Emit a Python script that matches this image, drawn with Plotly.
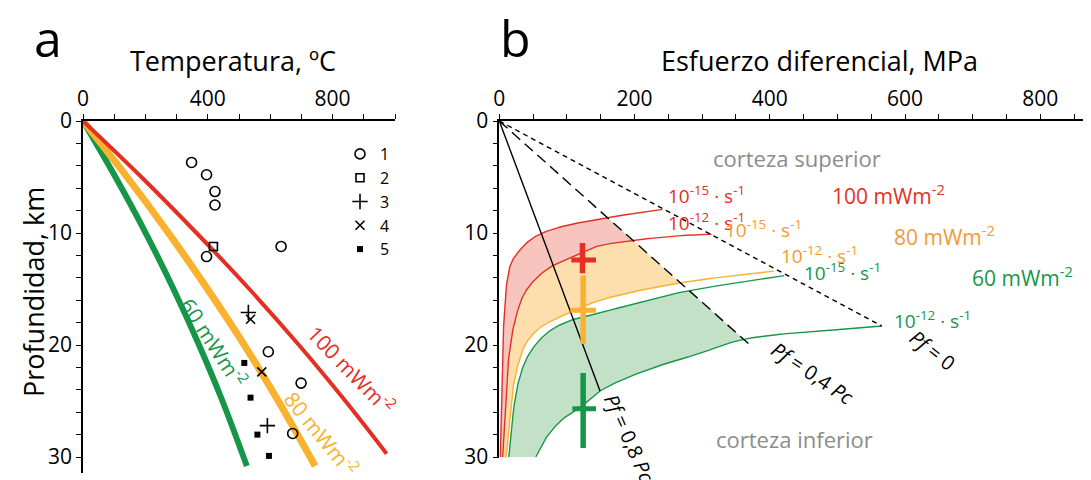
import numpy as np
import plotly.graph_objects as go

W, H = 1091, 480
OX, OY = 8, 8          # page body margin of the browser
FW, FH = W - OX, H - OY

# ---------------- Panel a data ----------------
geo_depth_100 = [0, 5, 10, 15, 20, 25, 29.7]
geo_T_100 = [0, 187, 364, 533, 692, 841, 973]
geo_depth = [0, 5, 10, 15, 20, 25, 30.8]
geo_T_80 = [0, 141, 274, 399, 517, 626, 744]
geo_T_60 = [0, 104, 201, 290, 372, 447, 525]

obs1_T = [348, 396, 423, 423, 396, 635, 594, 699, 672]
obs1_z = [3.7, 4.8, 6.3, 7.5, 12.1, 11.2, 20.6, 23.4, 27.9]
obs2_T = [418]
obs2_z = [11.2]
obs3_T = [530, 591]
obs3_z = [17.1, 27.2]
obs4_T = [537, 573]
obs4_z = [17.7, 22.4]
obs5_T = [517, 537, 559, 596, 623]
obs5_z = [21.6, 24.7, 28.0, 29.9, 31.8]

# ---------------- Panel b data ----------------
# ductile flow-law curves (sigma MPa, depth km)
redA_s = [1.5, 4, 6.5, 11.5, 19, 44, 64, 94, 144, 194, 241]
redA_z = [30, 22.6, 18.2, 14.3, 12.5, 10.7, 10.0, 9.4, 8.8, 8.3, 7.9]
redB_s = [5, 9, 14, 24, 39, 69, 109, 144, 194, 254, 314]
redB_z = [30, 25.6, 21.1, 17.6, 15.2, 13.3, 12.1, 11.2, 10.7, 10.3, 10.1]
orgC_s = [8, 14, 19, 26.5, 39, 59, 104, 144, 194, 244, 294, 406]
orgC_z = [31.2, 27.4, 24.4, 22.0, 19.9, 18.5, 17.1, 16.1, 15.3, 14.7, 14.2, 13.4]
grnD_s = [14, 20, 30, 44, 69, 101, 144, 194, 244, 294, 421]
grnD_z = [30, 26.2, 22.9, 20.8, 19.0, 17.9, 17.2, 16.4, 15.6, 15.0, 13.8]
grnE_s = [54, 69, 94, 119, 149, 194, 244, 294, 361, 566]
grnE_z = [30, 28.3, 26.6, 25.6, 24.1, 22.8, 21.7, 20.8, 19.5, 18.3]

# frictional (Byerlee) lines: sigma = k0*(1-lambda)*z
k0 = 30.9
pf_lambda = [0.0, 0.4, 0.8]
pf_end_depth = [18.3, 20.1, 24.1]
pf_labels = ["<i>Pf</i> = 0", "<i>Pf</i> = 0,4 <i>Pc</i>", "<i>Pf</i> = 0,8 <i>Pc</i>"]

# stress estimates (crosses)
cross_s = [123, 124, 124]
cross_s_lo = [106.5, 105, 108]
cross_s_hi = [143, 143, 143]
cross_z = [12.4, 16.9, 25.7]
cross_z_lo = [10.9, 13.8, 22.5]
cross_z_hi = [13.6, 19.9, 29.2]

RED = '#E42F25'
ORG = '#F9B12E'
ORG_T = '#F39A32'
GRN = '#17964A'
PINK_F = '#F8C5BE'
ORG_F = '#FDDFAE'
GRN_F = '#C2E1C6'
GRAY = '#8C8C8C'
FONT = 'Open Sans'

# scale factors (px per unit) used only for smoothing in screen space
SX_B, SZ = 0.6667, 11.2


def smooth(xs, zs, n=24):
    P = np.column_stack([np.asarray(xs, float) * SX_B, np.asarray(zs, float) * SZ])
    P = np.vstack([2 * P[0] - P[1], P, 2 * P[-1] - P[-2]])
    out = []
    for i in range(1, len(P) - 2):
        p0, p1, p2, p3 = P[i - 1], P[i], P[i + 1], P[i + 2]
        t0 = 0.0
        t1 = t0 + max(np.linalg.norm(p1 - p0), 1e-6) ** 0.5
        t2 = t1 + max(np.linalg.norm(p2 - p1), 1e-6) ** 0.5
        t3 = t2 + max(np.linalg.norm(p3 - p2), 1e-6) ** 0.5
        for t in np.linspace(t1, t2, n, endpoint=False):
            A1 = (t1 - t) / (t1 - t0) * p0 + (t - t0) / (t1 - t0) * p1
            A2 = (t2 - t) / (t2 - t1) * p1 + (t - t1) / (t2 - t1) * p2
            A3 = (t3 - t) / (t3 - t2) * p2 + (t - t2) / (t3 - t2) * p3
            B1 = (t2 - t) / (t2 - t0) * A1 + (t - t0) / (t2 - t0) * A2
            B2 = (t3 - t) / (t3 - t1) * A2 + (t - t1) / (t3 - t1) * A3
            C = (t2 - t) / (t2 - t1) * B1 + (t - t1) / (t2 - t1) * B2
            out.append(C)
    out.append(P[-2])
    out = np.array(out)
    return out[:, 0] / SX_B, out[:, 1] / SZ


fig = go.Figure()

# ---------------- Panel a traces ----------------
for T, z, c, w in [(geo_T_60, geo_depth, GRN, 6), (geo_T_80, geo_depth, ORG, 7),
                   (geo_T_100, geo_depth_100, RED, 4)]:
    fig.add_trace(go.Scatter(x=T, y=z, mode='lines', line=dict(color=c, width=w, shape='spline'),
                             showlegend=False, hoverinfo='skip', xaxis='x', yaxis='y'))

obs = [
    ("1", obs1_T, obs1_z, 'circle-open', 10, 1.6),
    ("2", obs2_T, obs2_z, 'square-open', 8, 1.6),
    ("3", obs3_T, obs3_z, 'cross-thin-open', 11, 1.6),
    ("4", obs4_T, obs4_z, 'x-thin-open', 9, 1.6),
    ("5", obs5_T, obs5_z, 'square', 6, 0),
]
for name, T, z, sym, sz, lw in obs:
    fig.add_trace(go.Scatter(x=T, y=z, mode='markers', name=name, cliponaxis=False,
                             marker=dict(symbol=sym, size=sz, color='black', line=dict(color='black', width=lw)),
                             xaxis='x', yaxis='y'))

# ---------------- Panel b traces ----------------
kd = k0 * (1 - pf_lambda[1])  # dashed Pf=0.4Pc boundary for fills
curves = {}
for key, s, z in [('A', redA_s, redA_z), ('B', redB_s, redB_z), ('C', orgC_s, orgC_z),
                  ('D', grnD_s, grnD_z), ('E', grnE_s, grnE_z)]:
    curves[key] = smooth(s, z)


def band(top, bot, color):
    s1, z1 = curves[top]
    s2, z2 = curves[bot]
    s1c = np.minimum(s1, kd * z1)
    s2c = np.minimum(s2, kd * z2)
    xs = np.concatenate([s1c, s2c[::-1]])
    zs = np.concatenate([z1, z2[::-1]])
    fig.add_trace(go.Scatter(x=xs, y=zs, mode='lines', fill='toself', fillcolor=color,
                             line=dict(width=0), showlegend=False, hoverinfo='skip',
                             xaxis='x2', yaxis='y2'))


band('A', 'B', PINK_F)
band('B', 'C', ORG_F)
band('D', 'E', GRN_F)

for key, c in [('A', RED), ('B', RED), ('C', ORG), ('D', GRN), ('E', GRN)]:
    s, z = curves[key]
    fig.add_trace(go.Scatter(x=s, y=z, mode='lines', line=dict(color=c, width=1.4),
                             showlegend=False, hoverinfo='skip', xaxis='x2', yaxis='y2'))

dashes = ['5px,4px', '11px,6px', 'solid']
for lam, zend, d in zip(pf_lambda, pf_end_depth, dashes):
    fig.add_trace(go.Scatter(x=[0, k0 * (1 - lam) * zend], y=[0, zend], mode='lines',
                             line=dict(color='black', width=1.4, dash=d),
                             showlegend=False, hoverinfo='skip', xaxis='x2', yaxis='y2'))

for i, c in enumerate([RED, ORG, GRN]):
    fig.add_trace(go.Scatter(
        x=[cross_s[i]], y=[cross_z[i]], mode='markers', marker=dict(size=1, color=c, opacity=0),
        error_x=dict(type='data', symmetric=False, array=[cross_s_hi[i] - cross_s[i]],
                     arrayminus=[cross_s[i] - cross_s_lo[i]], color=c, thickness=5, width=0),
        error_y=dict(type='data', symmetric=False, array=[cross_z_hi[i] - cross_z[i]],
                     arrayminus=[cross_z[i] - cross_z_lo[i]], color=c, thickness=5.5, width=0),
        showlegend=False, hoverinfo='skip', xaxis='x2', yaxis='y2'))

# ---------------- Layout ----------------
def px_x(p):
    return (p - OX) / FW


def px_y(p):
    return 1 - (p - OY) / FH


axis_common = dict(showline=True, linecolor='black', linewidth=1.5, ticks='outside', ticklen=5,
                   tickwidth=1.3, tickcolor='black', showgrid=False, zeroline=False, automargin=False,
                   tickfont=dict(family=FONT, size=21, color='black'))
minor_common = dict(ticks='outside', ticklen=5, tickcolor='black', tickwidth=1.3, showgrid=False)

fig.update_layout(
    width=FW, height=FH, margin=dict(l=0, r=0, t=0, b=0, pad=0, autoexpand=False),
    plot_bgcolor='white', paper_bgcolor='white',
    font=dict(family=FONT, color='black'),
    xaxis=dict(domain=[px_x(83), px_x(395)], range=[0, 1000], side='top', anchor='y',
               tickvals=[0, 400, 800], minor=dict(dtick=100, **minor_common), **axis_common),
    yaxis=dict(domain=[px_y(472.7), px_y(121)], range=[31.4, 0], anchor='x',
               tickvals=[0, 10, 20, 30], minor=dict(dtick=2, **minor_common), **axis_common),
    xaxis2=dict(domain=[px_x(499.3), 1.0], range=[0, 875], side='top', anchor='y2',
                tickvals=[0, 200, 400, 600, 800], minor=dict(dtick=50, **minor_common), **axis_common),
    yaxis2=dict(domain=[px_y(457.6), px_y(121)], range=[30.05, 0], anchor='x2',
                tickvals=[0, 10, 20, 30], minor=dict(dtick=2, **minor_common), **axis_common),
    legend=dict(x=px_x(340), y=px_y(137), xanchor='left', yanchor='top', bgcolor='rgba(0,0,0,0)',
                font=dict(family=FONT, size=16, color='black'), tracegroupgap=0, itemwidth=30),
)

ann = []


def A(text, x, y, size, color='black', xref='paper', yref='paper', angle=0):
    ann.append(dict(text=text, x=x, y=y, xref=xref, yref=yref, showarrow=False, textangle=angle,
                    font=dict(family=FONT, size=size, color=color), xanchor='center', yanchor='middle'))


A('a', px_x(48), px_y(38), 50)
A('b', px_x(515), px_y(38), 50)
A('Temperatura, ºC', px_x(233), px_y(60), 27)
A('Esfuerzo diferencial, MPa', px_x(820), px_y(60), 27)
A('Profundidad, km', px_x(33), px_y(292), 27, angle=-90)

# panel a labels
A('60 mWm<sup>-2</sup>', 420, 19.7, 21, GRN, 'x', 'y', 57)
A('80 mWm<sup>-2</sup>', 766, 27.9, 21, ORG, 'x', 'y', 51)
A('100 mWm<sup>-2</sup>', 862, 22.2, 21, RED, 'x', 'y', 46)

# panel b labels
A('corteza superior', 440, 3.3, 22, GRAY, 'x2', 'y2')
A('corteza inferior', 436, 28.4, 22, GRAY, 'x2', 'y2')
A('100 mWm<sup>-2</sup>', 576, 6.6, 21, RED, 'x2', 'y2')
A('80 mWm<sup>-2</sup>', 658, 10.2, 21, ORG_T, 'x2', 'y2')
A('60 mWm<sup>-2</sup>', 774, 13.9, 21, GRN, 'x2', 'y2')
A('10<sup>-15</sup> · s<sup>-1</sup>', 306, 6.6, 19, RED, 'x2', 'y2')
A('10<sup>-12</sup> · s<sup>-1</sup>', 306, 9.0, 19, RED, 'x2', 'y2')
A('10<sup>-15</sup> · s<sup>-1</sup>', 391, 9.6, 19, ORG_T, 'x2', 'y2')
A('10<sup>-12</sup> · s<sup>-1</sup>', 473, 12.0, 19, ORG_T, 'x2', 'y2')
A('10<sup>-15</sup> · s<sup>-1</sup>', 508, 13.5, 19, GRN, 'x2', 'y2')
A('10<sup>-12</sup> · s<sup>-1</sup>', 641, 17.8, 19, GRN, 'x2', 'y2')
A(pf_labels[0], 641, 20.5, 20, 'black', 'x2', 'y2', 38)
A(pf_labels[1], 464, 22.5, 20, 'black', 'x2', 'y2', 34)
A(pf_labels[2], 193, 28.3, 20, 'black', 'x2', 'y2', 66)

fig.update_layout(annotations=ann)
fig.write_html("out.html")
